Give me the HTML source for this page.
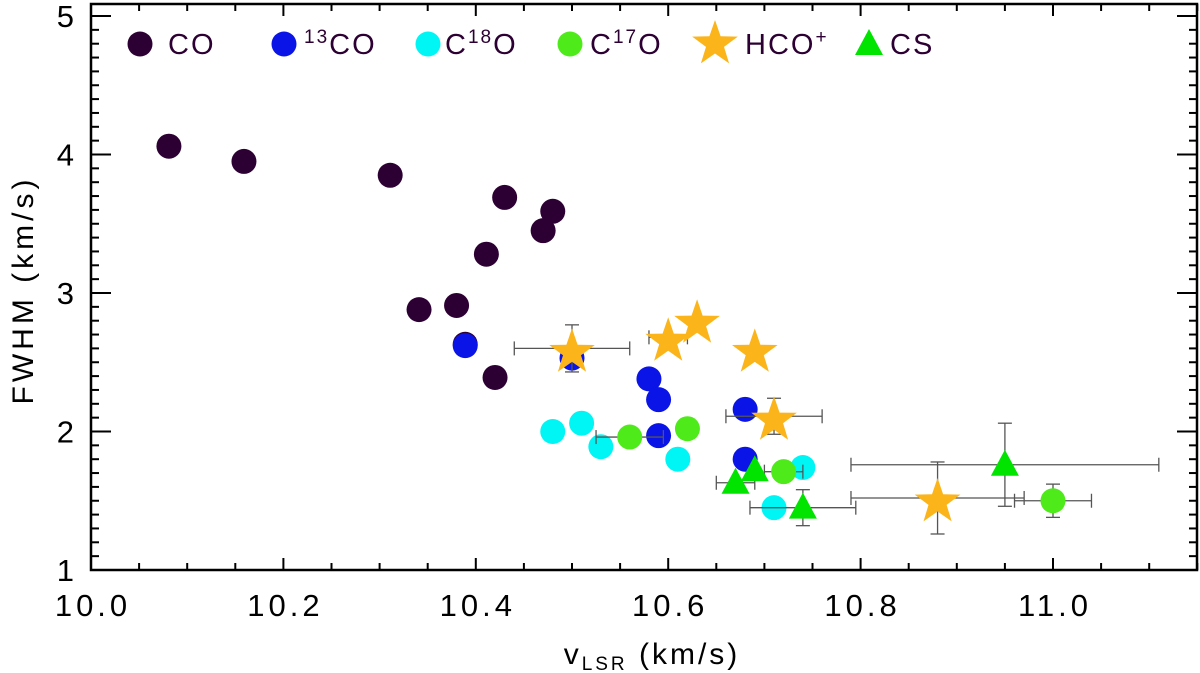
<!DOCTYPE html>
<html><head><meta charset="utf-8"><style>
body{margin:0;background:#fff}
svg{display:block;font-family:"Liberation Sans",sans-serif}
</style></head><body>
<svg id="chart" width="1200" height="673">
<g id="axes"></g>
<g id="marks"></g>
<g id="legend"></g>
</svg>
<script>
const coV=[10.081,10.159,10.311,10.43,10.48,10.47,10.411,10.341,10.38,10.389,10.42];
const coW=[4.06,3.95,3.85,3.69,3.59,3.45,3.28,2.88,2.91,2.63,2.39];
const c13V=[10.389,10.5,10.58,10.59,10.59,10.68,10.68];
const c13W=[2.62,2.53,2.38,2.23,1.97,2.16,1.80];
const c18V=[10.48,10.51,10.53,10.61,10.74,10.71];
const c18W=[2.0,2.06,1.89,1.80,1.74,1.45];
const c17V=[10.56,10.62,10.72,11.0];
const c17W=[1.96,2.02,1.71,1.50];
const c17Xe=[0.035,0,0.02,0.04];
const c17Ye=[0,0,0,0.12];
const hcoV=[10.50,10.60,10.63,10.69,10.71,10.88];
const hcoW=[2.60,2.68,2.81,2.60,2.11,1.52];
const hcoXe=[0.06,0.02,0,0,0.05,0.09];
const hcoYe=[0.17,0,0,0,0.13,0.26];
const csV=[10.67,10.69,10.74,10.95];
const csW=[1.63,1.72,1.45,1.76];
const csXe=[0.02,0,0.055,0.16];
const csYe=[0,0,0.13,0.30];
const xTicks=["10.0","10.2","10.4","10.6","10.8","11.0"];
const yTicks=["1","2","3","4","5"];

const NS="http://www.w3.org/2000/svg";
const X0=91,X1=1197,Y0=570,Y1=4;
const sx=v=>X0+(v-10)*962;
const sy=w=>Y0-(w-1)*138.5;
function mk(tag,attrs,parent){const e=document.createElementNS(NS,tag);for(const k in attrs)e.setAttribute(k,attrs[k]);parent.appendChild(e);return e;}
const axes=document.getElementById('axes'),marks=document.getElementById('marks'),legend=document.getElementById('legend');

let f=mk('rect',{x:X0,y:Y1,width:X1-X0,height:Y0-Y1,fill:'none',stroke:'#000','stroke-width':2.5},axes);


for(let i=0;i<=23;i++){const v=10+i*0.05;const x=sx(v);const L=(i%4==0)?12:7;
 mk('line',{x1:x,y1:Y0,x2:x,y2:Y0-L,stroke:'#000','stroke-width':2},axes);
 mk('line',{x1:x,y1:Y1,x2:x,y2:Y1+L,stroke:'#000','stroke-width':2},axes);}
for(let i=0;i<=41;i++){const w=1+i*0.1;const y=sy(w);if(y<Y1)break;const L=(i%10==0)?20:8;
 mk('line',{x1:X0,y1:y,x2:X0+L,y2:y,stroke:'#000','stroke-width':2},axes);
 mk('line',{x1:X1,y1:y,x2:X1-L,y2:y,stroke:'#000','stroke-width':2},axes);}
xTicks.forEach(t=>{const e=mk('text',{x:sx(parseFloat(t))+2,y:616,'text-anchor':'middle','font-size':31,'letter-spacing':4},axes);e.textContent=t;
 
 });
yTicks.forEach(t=>{const e=mk('text',{x:74,y:sy(parseFloat(t))+11,'text-anchor':'end','font-size':31},axes);e.textContent=t;
 
 });
let xl=mk('text',{x:652,y:664,'text-anchor':'middle','font-size':30,'letter-spacing':3},axes);
xl.innerHTML='v<tspan font-size="19" dy="6">LSR</tspan><tspan dy="-6"> (km/s)</tspan>';


let yl=mk('text',{x:0,y:0,'text-anchor':'middle','font-size':30,'letter-spacing':4,transform:'translate(33,290) rotate(-90)'},axes);
yl.textContent='FWHM (km/s)';



function err(v,w,xe,ye){const c='#555';
 if(xe>0){mk('line',{x1:sx(v-xe),y1:sy(w),x2:sx(v+xe),y2:sy(w),stroke:c,'stroke-width':1.3},marks);
  [v-xe,v+xe].forEach(q=>mk('line',{x1:sx(q),y1:sy(w)-7,x2:sx(q),y2:sy(w)+7,stroke:c,'stroke-width':1.3},marks));}
 if(ye>0){mk('line',{x1:sx(v),y1:sy(w-ye),x2:sx(v),y2:sy(w+ye),stroke:c,'stroke-width':1.3},marks);
  [w-ye,w+ye].forEach(q=>mk('line',{x1:sx(v)-7,y1:sy(q),x2:sx(v)+7,y2:sy(q),stroke:c,'stroke-width':1.3},marks));}}
function circ(x,y,col,p){return mk('circle',{cx:x,cy:y,r:12.5,fill:col},p);}
function star(x,y,p){let pts=[];for(let i=0;i<10;i++){const r=i%2?9.5:24;const a=-Math.PI/2+i*Math.PI/5;pts.push((x+r*Math.cos(a)).toFixed(1)+','+(y+4+r*Math.sin(a)).toFixed(1));}
 return mk('polygon',{points:pts.join(' '),fill:'#FBB41A'},p);}
function tri(x,y,p){return mk('polygon',{points:`${x},${y-15} ${x-14},${y+11} ${x+14},${y+11}`,fill:'#00E400'},p);}

coV.forEach((v,i)=>{const e=circ(sx(v),sy(coW[i]),'#2D0033',marks);
 
 });
c13V.forEach((v,i)=>{const e=circ(sx(v),sy(c13W[i]),'#0A14E6',marks);
 
 });
c18V.forEach((v,i)=>{const e=circ(sx(v),sy(c18W[i]),'#00F5F5',marks);
 
 });
c17V.forEach((v,i)=>{err(v,c17W[i],c17Xe[i],c17Ye[i]);const e=circ(sx(v),sy(c17W[i]),'#4EEA1A',marks);
 
 });
csV.forEach((v,i)=>{err(v,csW[i],csXe[i],csYe[i]);const e=tri(sx(v),sy(csW[i]),marks);
 
 });
hcoV.forEach((v,i)=>{err(v,hcoW[i],hcoXe[i],hcoYe[i]);const e=star(sx(v),sy(hcoW[i]),marks);
 
 });

const ly=44;
let e;
e=circ(140,ly,'#2D0033',legend);
e=circ(284,ly,'#0A14E6',legend);
e=circ(428,ly,'#00F5F5',legend);
e=circ(570,ly,'#4EEA1A',legend);
e=star(715,ly-4,legend);
e=tri(869,ly,legend);
const labs=[[168,'CO'],[304,'<tspan font-size="19" dy="-11">13</tspan><tspan dy="11">CO</tspan>'],[445,'C<tspan font-size="19" dy="-11">18</tspan><tspan dy="11">O</tspan>'],[590,'C<tspan font-size="19" dy="-11">17</tspan><tspan dy="11">O</tspan>'],[745,'HCO<tspan font-size="19" dy="-11">+</tspan>'],[890,'CS']];
labs.forEach(l=>{const t=mk('text',{x:l[0],y:ly+10,'font-size':29,'letter-spacing':2,fill:'#2D0033'},legend);t.innerHTML=l[1];
 
 });
</script>
</body></html>
